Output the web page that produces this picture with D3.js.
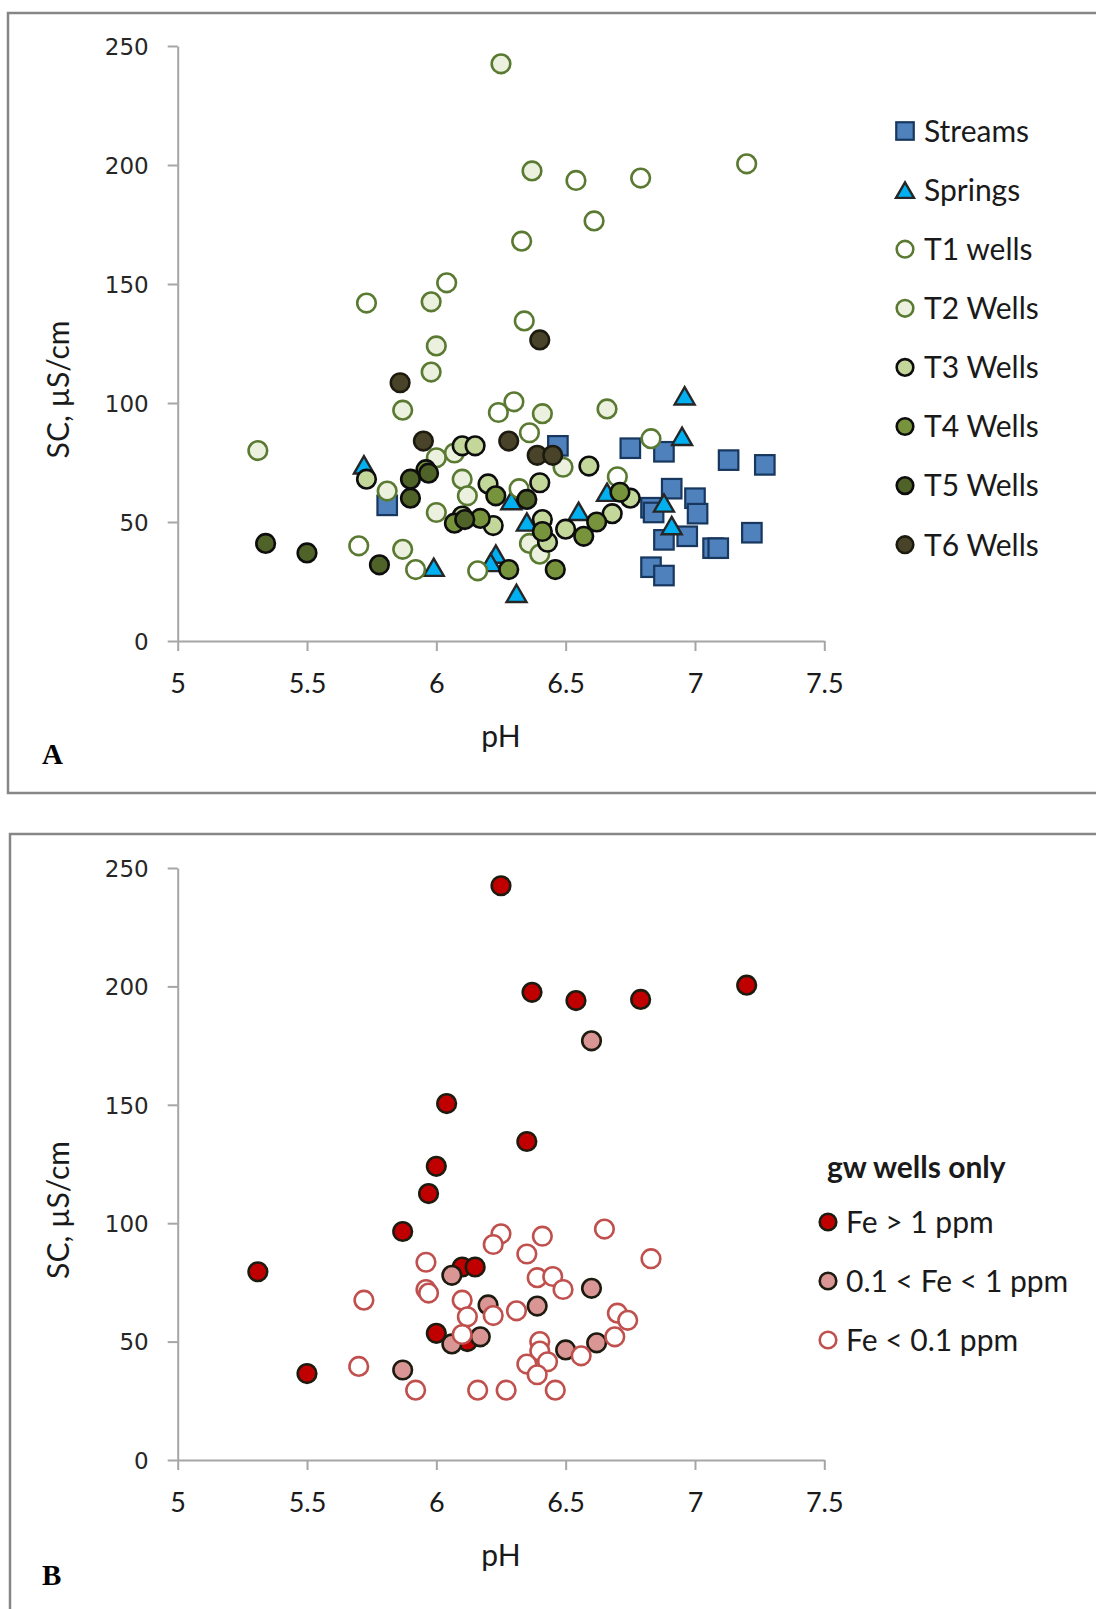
<!DOCTYPE html>
<html>
<head>
<meta charset="utf-8">
<script src="https://cdn.jsdelivr.net/npm/d3@7"></script>
<style>
  body { margin: 0; background: #fff; }
  svg { display: block; }
</style>
</head>
<body>
<script>
// Axis ticks shared by both panels
const xTicks = [5, 5.5, 6, 6.5, 7, 7.5];
const yTicks = [0, 50, 100, 150, 200, 250];

// Panel A: [pH, SC (µS/cm)] by sample type
const streams = [[5.81,57],[6.47,82],[6.75,81],[6.88,79.5],[7.13,76],[7.27,74],[6.91,64],[7.0,60],[7.01,53.5],
  [6.83,56],[6.84,54],[6.88,42.5],[6.97,44],[7.07,39],[7.09,39],[7.22,45.5],[6.83,31],[6.88,27.5]];
const springs = [[5.72,74],[5.99,31],[6.29,59],[6.23,36.5],[6.21,33],[6.31,20],[6.35,50],[6.55,54.5],
  [6.66,62.5],[6.88,58],[6.91,48.5],[6.96,103],[6.95,86]];
const t1Wells = [[5.73,142],[6.04,150.5],[6.54,193.5],[6.79,194.5],[7.2,200.5],[6.61,176.5],[6.33,168],[6.34,134.5],
  [6.24,96],[6.3,100.5],[6.36,87.5],[6.32,64],[5.7,40],[5.92,30],[6.16,29.5],[6.83,85],[6.7,69]];
const t2Wells = [[6.25,242.5],[6.37,197.5],[5.98,142.5],[6.0,124],[5.98,113],[5.87,97],[5.31,80],[5.81,63],[6.0,77],
  [6.07,79],[6.1,68],[6.12,61],[6.0,54],[5.87,38.5],[6.41,95.5],[6.66,97.5],[6.49,73],[6.36,41],[6.4,36.5]];
const t3Wells = [[5.73,68],[6.1,82],[6.15,82],[6.2,66],[6.4,66.5],[6.41,51],[6.43,41.5],[6.22,48.5],[6.1,52.5],
  [6.59,73.5],[6.75,60],[6.68,53.5],[6.5,47]];
const t4Wells = [[5.96,72],[6.07,49.5],[6.23,61],[6.41,46],[6.17,51.5],[6.28,30],[6.46,30],[6.71,62.5],[6.62,50],[6.57,44]];
const t5Wells = [[5.34,41],[5.5,37],[5.78,32],[5.9,68],[5.9,60],[5.97,70.5],[6.11,51],[6.35,59.5]];
const t6Wells = [[5.86,108.5],[5.95,84],[6.28,84],[6.39,78],[6.45,78],[6.4,126.5]];

// Panel B: groundwater wells grouped by dissolved iron
const feHigh = [[6.25,242.5],[6.37,197.5],[6.54,194],[6.79,194.5],[7.2,200.5],[6.04,150.5],[6.35,134.5],[6.0,124],
  [5.97,112.5],[5.87,96.5],[5.31,79.5],[6.1,81.5],[6.15,81.5],[6.0,53.5],[6.12,50],[5.5,36.5]];
const feMid = [[6.6,177],[6.06,78],[5.87,38],[6.6,72.5],[6.2,65.5],[6.39,65],[6.06,49],[6.17,52],[6.5,46.5],[6.62,49.5]];
const feLow = [[5.96,83.5],[5.96,72],[5.97,70.5],[5.72,67.5],[5.7,39.5],[5.92,29.5],[6.25,95.5],[6.22,91],[6.41,94.5],
  [6.65,97.5],[6.83,85],[6.35,87],[6.39,77],[6.45,77.5],[6.49,72],[6.1,67.5],[6.12,60.5],[6.22,61],[6.31,63],
  [6.1,53],[6.4,50],[6.4,46],[6.43,41.5],[6.35,40.5],[6.39,36],[6.56,44],[6.69,52],[6.7,62],[6.74,59],
  [6.16,29.5],[6.27,29.5],[6.46,29.5]];

const seriesA = [
  { name: "Streams",   data: streams, shape: "square",   fill: "#4f81bd", stroke: "#17375e", sw: 2.2 },
  { name: "Springs",   data: springs, shape: "triangle", fill: "#00b0f0", stroke: "#262626", sw: 2.4 },
  { name: "T1 wells",  data: t1Wells, shape: "circle",   fill: "#ffffff", stroke: "#5a7a32", sw: 2.6 },
  { name: "T2 Wells",  data: t2Wells, shape: "circle",   fill: "#ebf1de", stroke: "#5a7a32", sw: 2.6 },
  { name: "T3 Wells",  data: t3Wells, shape: "circle",   fill: "#c4d79b", stroke: "#0d0d0d", sw: 2.6 },
  { name: "T4 Wells",  data: t4Wells, shape: "circle",   fill: "#77933c", stroke: "#0d0d0d", sw: 2.6 },
  { name: "T5 Wells",  data: t5Wells, shape: "circle",   fill: "#4f6228", stroke: "#0d0d0d", sw: 2.6 },
  { name: "T6 Wells",  data: t6Wells, shape: "circle",   fill: "#494429", stroke: "#1d1b10", sw: 2.6 }
];
const seriesB = [
  { name: "Fe > 1 ppm",       data: feHigh, shape: "circle", fill: "#c00000", stroke: "#1d1b10", sw: 2.6 },
  { name: "0.1 < Fe < 1 ppm", data: feMid,  shape: "circle", fill: "#da9694", stroke: "#1d1b10", sw: 2.6 },
  { name: "Fe < 0.1 ppm",     data: feLow,  shape: "circle", fill: "#ffffff", stroke: "#c0504d", sw: 2.6 }
];

const W = 1096, H = 1609;
const svg = d3.select("body").append("svg").attr("width", W).attr("height", H);
svg.append("rect").attr("width", W).attr("height", H).attr("fill", "#fff");

const x = d3.scaleLinear().domain([5, 7.5]).range([177.7, 824.3]);
const labelFont = "Lato, 'Open Sans', sans-serif";
const tickFont = "'DejaVu Sans', Verdana, sans-serif";

function marker(g, s, size) {
  const r = size / 2;
  if (s.shape === "circle") {
    g.append("circle").attr("r", r - 1.2);
  } else if (s.shape === "square") {
    const a = size - 1.5;
    g.append("rect").attr("x", -a / 2).attr("y", -a / 2).attr("width", a).attr("height", a);
  } else {
    // triangle centred on its bounding box
    const side = size - 1;
    const area = side * side * Math.sqrt(3) / 4;
    g.append("path")
      .attr("d", d3.symbol().type(d3.symbolTriangle).size(area)())
      .attr("transform", `translate(0,${side * 0.1443})`);
  }
  g.attr("fill", s.fill).attr("stroke", s.stroke).attr("stroke-width", s.sw);
}

function drawPanel(cfg) {
  const y = d3.scaleLinear().domain([0, 250]).range(cfg.yRange);
  const root = svg.append("g");

  // panel frame
  root.append("rect")
    .attr("x", cfg.frame[0]).attr("y", cfg.frame[1])
    .attr("width", cfg.frame[2]).attr("height", cfg.frame[3])
    .attr("fill", "none").attr("stroke", "#868686").attr("stroke-width", 2.5);

  const gx = root.append("g").attr("transform", `translate(0,${cfg.yRange[0]})`)
    .call(d3.axisBottom(x).tickValues(xTicks).tickSize(10).tickSizeOuter(0).tickFormat(d3.format("")));
  const gy = root.append("g").attr("transform", `translate(${x(5)},0)`)
    .call(d3.axisLeft(y).tickValues(yTicks).tickSize(10).tickSizeOuter(0));
  [gx, gy].forEach(g => {
    g.select(".domain").attr("stroke", "#a6a6a6").attr("stroke-width", 2);
    g.selectAll(".tick line").attr("stroke", "#a6a6a6").attr("stroke-width", 2);
  });
  gx.selectAll(".tick text").attr("y", 43).attr("dy", "0.35em")
    .attr("font-family", labelFont).attr("font-size", 27).attr("fill", "#1a1a1a");
  gy.selectAll(".tick text").attr("x", -29).attr("dy", "0.36em")
    .attr("font-family", tickFont).attr("font-size", 23).attr("fill", "#262626");

  // axis titles
  root.append("text").attr("x", 501).attr("y", cfg.yRange[0] + 95).attr("dy", "0.35em")
    .attr("text-anchor", "middle").attr("font-family", labelFont).attr("font-size", 30)
    .attr("fill", "#1a1a1a").text("pH");
  root.append("text")
    .attr("transform", `translate(58,${(cfg.yRange[0] + cfg.yRange[1]) / 2 + 46}) rotate(-90)`)
    .attr("dy", "0.35em").attr("text-anchor", "middle").attr("font-family", labelFont)
    .attr("font-size", 30).attr("fill", "#1a1a1a").text("SC, µS/cm");

  // panel letter
  root.append("text").attr("x", 42).attr("y", cfg.letterY)
    .attr("font-family", "'Liberation Serif', 'Times New Roman', serif").attr("font-weight", "bold")
    .attr("font-size", 29).attr("fill", "#000").text(cfg.letter);

  // data marks, drawn in series order so later series sit on top
  cfg.series.forEach(s => {
    const gs = root.append("g");
    gs.selectAll("g").data(s.data).join("g")
      .attr("transform", d => `translate(${x(d[0])},${y(d[1])})`)
      .each(function () { marker(d3.select(this), s, 21); });
  });

  // legend
  const lg = root.append("g");
  if (cfg.legendTitle) {
    lg.append("text").attr("x", cfg.legendTitle.x).attr("y", cfg.legendTitle.y).attr("dy", "0.35em")
      .attr("font-family", labelFont).attr("font-weight", "bold").attr("font-size", 30)
      .attr("fill", "#1a1a1a").text(cfg.legendTitle.text);
  }
  cfg.series.forEach((s, i) => {
    const cy = cfg.legend.y0 + i * cfg.legend.dy;
    const mg = lg.append("g").attr("transform", `translate(${cfg.legend.mx},${cy})`);
    marker(mg, s, 19);
    lg.append("text").attr("x", cfg.legend.tx).attr("y", cy).attr("dy", "0.36em")
      .attr("font-family", labelFont).attr("font-size", 30).attr("fill", "#1a1a1a").text(s.name);
  });
}

drawPanel({
  yRange: [641, 46], frame: [8, 13, 1100, 780], letter: "A", letterY: 764,
  series: seriesA,
  legend: { mx: 905, tx: 924, y0: 131, dy: 59.1 }
});
drawPanel({
  yRange: [1460, 868], frame: [10, 834, 1100, 790], letter: "B", letterY: 1585,
  series: seriesB,
  legendTitle: { x: 827, y: 1167, text: "gw wells only" },
  legend: { mx: 828, tx: 846, y0: 1222, dy: 59 }
});
</script>
</body>
</html>
